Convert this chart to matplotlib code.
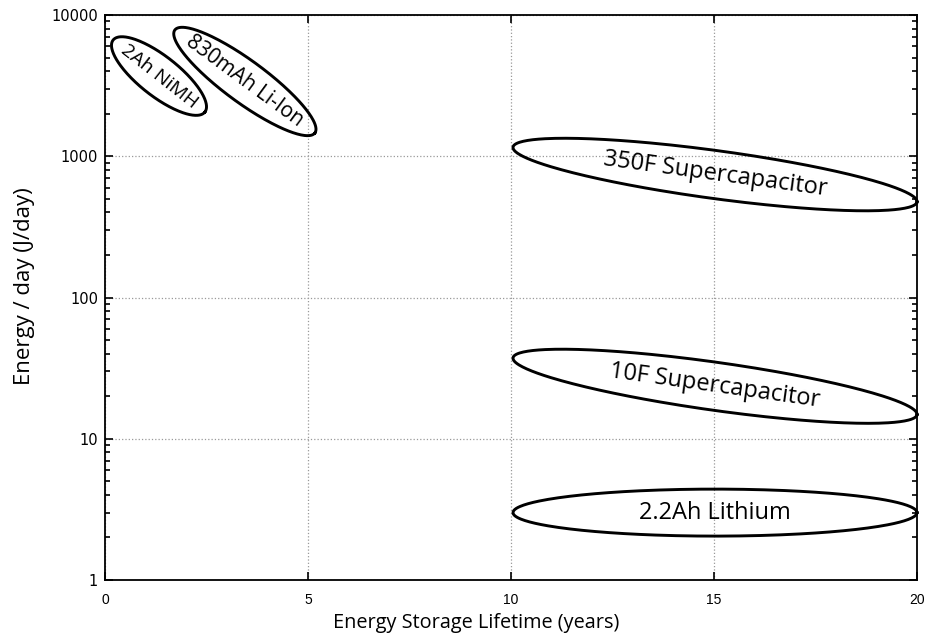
import numpy as np
import matplotlib
matplotlib.use("Agg")
import matplotlib.pyplot as plt

# storage technologies: lifetime range (years) and energy per day (J/day) at each end
labels = ["2Ah NiMH", "830mAh Li-Ion", "350F Supercapacitor", "10F Supercapacitor", "2.2Ah Lithium"]
life_start = [0.2, 1.72, 10.05, 10.05, 10.05]
life_end = [2.46, 5.17, 20.0, 20.0, 20.0]
energy_start = [6650, 7830, 1160, 37.4, 3.0]
energy_end = [2055, 1462, 475, 14.8, 3.0]

xticks = [0, 5, 10, 15, 20]
yticks = [1, 10, 100, 1000, 10000]

# minor diameter of each outline in pixels, and label sizes (style)
widths_px = [40, 42, 48, 48, 47]
label_sizes = [14, 15, 17, 17, 17]

plt.rcParams['font.family'] = ['Open Sans', 'DejaVu Sans']

fig = plt.figure(figsize=(9.37, 6.44), dpi=100)
ax = fig.add_axes([105/937, 64/644, 812/937, 565/644])
ax.set_yscale('log')
ax.set_xlim(0, 20)
ax.set_ylim(1, 10000)
ax.set_xticks(xticks)
ax.set_xticklabels([str(v) for v in xticks], fontsize=10, family='Liberation Sans')
ax.set_yticks(yticks)
ax.set_yticklabels([str(v) for v in yticks], fontsize=10.5, family='DejaVu Sans')
ax.tick_params(which='both', direction='in', top=True, right=True, width=1.2)
ax.tick_params(which='major', length=6)
ax.tick_params(axis='x', which='major', pad=9)
ax.tick_params(axis='y', which='major', pad=5)
ax.tick_params(which='minor', length=3.5)
ax.tick_params(axis='x', which='minor', bottom=False, top=False)
ax.grid(True, which='major', linestyle=':', color='#999999', linewidth=0.9)
for s in ax.spines.values():
    s.set_linewidth(1.3)

ax.set_xlabel('Energy Storage Lifetime (years)', fontsize=14.3)
ax.set_ylabel('Energy / day (J/day)', fontsize=16)
ax.xaxis.set_label_coords(0.4575, -0.058)
ax.yaxis.set_label_coords(-0.086, 0.521)

fig.canvas.draw()
tr = ax.transData
inv = tr.inverted()
t = np.linspace(0, 2*np.pi, 300)
for i in range(len(labels)):
    p0 = tr.transform((life_start[i], energy_start[i]))
    p1 = tr.transform((life_end[i], energy_end[i]))
    c = (p0 + p1) / 2
    d = p1 - p0
    a = np.hypot(*d) / 2
    u = d / (2*a)
    v = np.array([-u[1], u[0]])
    b = widths_px[i] / 2
    pts = c + np.outer(a*np.cos(t), u) + np.outer(b*np.sin(t), v)
    dp = inv.transform(pts)
    ax.plot(dp[:, 0], dp[:, 1], color='black', lw=2.1, clip_on=False)
    ang = np.degrees(np.arctan2(d[1], d[0]))
    cd = inv.transform(c)
    ax.text(cd[0], cd[1], labels[i], rotation=ang, rotation_mode='anchor',
            ha='center', va='center', fontsize=label_sizes[i])

fig.savefig('out.png', dpi=100)
